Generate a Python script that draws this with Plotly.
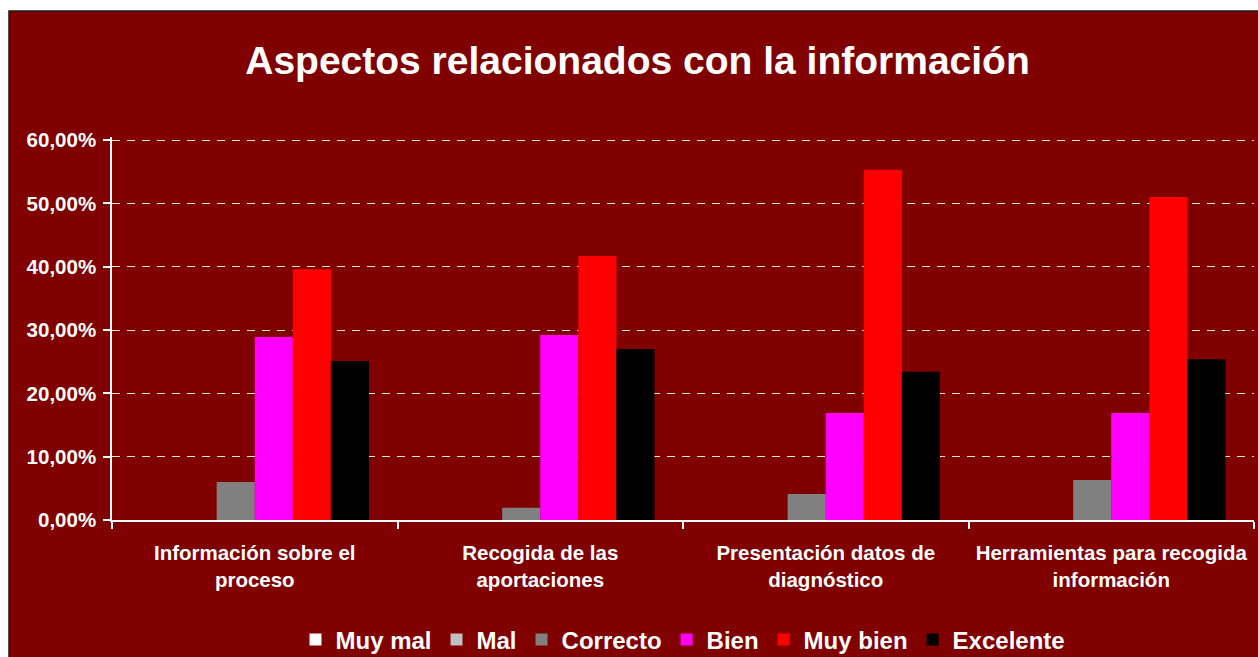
import plotly.graph_objects as go

# Data
categories = [
    "Información sobre el<br>proceso",
    "Recogida de las<br>aportaciones",
    "Presentación datos de<br>diagnóstico",
    "Herramientas para recogida<br>información",
]
series_names = ["Muy mal", "Mal", "Correcto", "Bien", "Muy bien", "Excelente"]
muy_mal = [0.0, 0.0, 0.0, 0.0]
mal = [0.0, 0.0, 0.0, 0.0]
correcto = [0.060, 0.0195, 0.041, 0.063]
bien = [0.289, 0.292, 0.169, 0.169]
muy_bien = [0.396, 0.417, 0.553, 0.510]
excelente = [0.251, 0.270, 0.234, 0.254]
y_ticks = [0, 0.1, 0.2, 0.3, 0.4, 0.5, 0.6]
colors = ["#FFFFFF", "#C0C0C0", "#808080", "#FF00FF", "#FF0000", "#000000"]

W, H = 1258, 657
# plot area top sits 3px above the 60% line so that gridline is drawn
L, R, T, B = 112, 4, 137, 137
plot_w = W - L - R
plot_h = H - T - B
y_top = 0.6 * plot_h / (plot_h - 3)

FONT = "Liberation Sans, Arial, sans-serif"

fig = go.Figure()
for name, vals, col in zip(series_names,
                           [muy_mal, mal, correcto, bien, muy_bien, excelente],
                           colors):
    fig.add_trace(go.Bar(
        name=f"<b>{name}</b>",
        x=categories,
        y=vals,
        marker=dict(color=col, line=dict(width=0)),
    ))


def px_x(p):
    # pixel -> paper x
    return (p - L) / plot_w


def px_y(p):
    # pixel -> paper y
    return (H - B - p) / plot_h


# dark red chart panel with a thin dark border
fig.add_shape(
    type="rect", xref="paper", yref="paper", layer="below",
    x0=px_x(9), x1=px_x(1262), y0=px_y(662), y1=px_y(11),
    fillcolor="#800000", line=dict(color="#1a1a1a", width=1.5),
)

fig.update_layout(
    width=W,
    height=H,
    margin=dict(l=L, r=R, t=T, b=B, autoexpand=False),
    paper_bgcolor="white",
    plot_bgcolor="rgba(0,0,0,0)",
    barmode="group",
    bargap=0.2,
    bargroupgap=0,
    font=dict(family=FONT, color="white"),
    title=dict(
        text="<b>Aspectos relacionados con la información</b>",
        font=dict(size=39, color="white", family=FONT),
        x=637.5 / W, xref="container", xanchor="center",
        y=1 - 60 / H, yref="container", yanchor="middle",
    ),
    xaxis=dict(
        automargin=False,
        showline=True, linecolor="white", linewidth=1.5,
        ticks="outside", tickson="boundaries", ticklen=7,
        tickcolor="white", tickwidth=1.5,
        tickvals=categories,
        ticktext=[f"<b>{c}</b>" for c in categories],
        tickfont=dict(size=20.5, color="white", family=FONT),
        ticklabelstandoff=14,
        showgrid=False,
    ),
    yaxis=dict(
        automargin=False,
        range=[0, y_top],
        tickvals=y_ticks,
        ticktext=[f"<b>{v * 100:.2f}%</b>".replace(".", ",") for v in y_ticks],
        showline=True, linecolor="white", linewidth=1.5,
        ticks="outside", ticklen=7, tickcolor="white", tickwidth=1.5,
        tickfont=dict(size=20.5, color="white", family=FONT),
        ticklabelstandoff=3,
        showgrid=True, gridcolor="#F5E8D8", gridwidth=1.2,
        griddash="8px,7px",
        zeroline=False,
    ),
    legend=dict(
        orientation="h",
        x=px_x(683), xanchor="center",
        y=px_y(640), yanchor="middle",
        font=dict(size=24, color="white", family=FONT),
        bgcolor="rgba(0,0,0,0)",
        itemwidth=30,
        traceorder="normal",
    ),
)

# drop the default 8px page margin so the figure fills the window exactly
fig.write_html(
    "out.html",
    config={"displayModeBar": False},
    post_script="document.body.style.margin='0px';document.body.style.overflow='hidden';",
)
